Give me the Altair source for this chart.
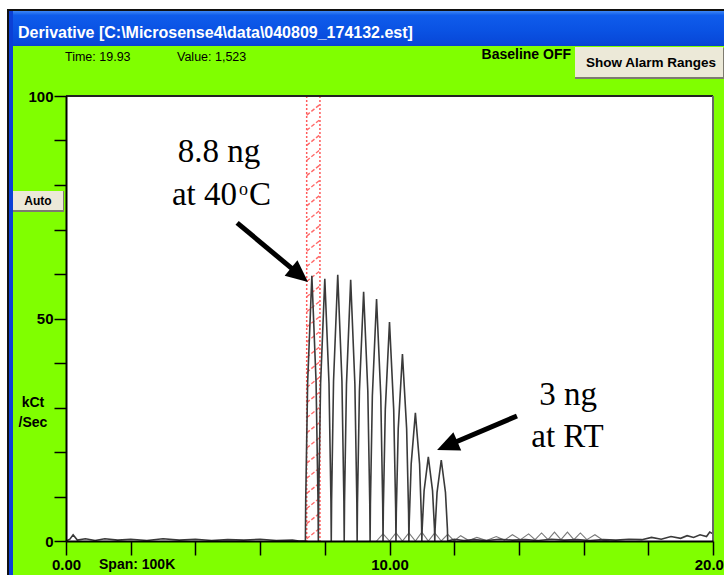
import altair as alt
import pandas as pd

# ---------------- values ----------------
# desorption peaks (time in min, height in kCt/Sec)
peak_x = [7.6, 8.0, 8.4, 8.8, 9.2, 9.6, 10.0, 10.4, 10.8, 11.2, 11.6]
peak_h = [59.6, 58.9, 59.8, 58.7, 56.0, 54.4, 49.2, 42.0, 28.8, 18.9, 18.2]

# baseline of the main trace before and after the peaks
pre_x = [0.0, 0.12, 0.22, 0.35, 0.6, 0.9, 1.2, 1.6, 2.0, 2.5, 3.0, 3.5, 4.0, 4.5, 5.0, 5.5, 6.0, 6.5, 7.0, 7.2]
pre_y = [0.0, 0.4, 1.4, 0.2, 0.5, 0.1, 0.5, 0.2, 0.4, 0.1, 0.5, 0.2, 0.4, 0.1, 0.3, 0.2, 0.4, 0.1, 0.2, 0.0]
post_x = [11.8, 12.0, 12.3, 12.6, 13.0, 13.4, 13.8, 14.2, 14.6, 15.0, 15.4, 15.8, 16.2, 16.6,
          17.0, 17.4, 17.8, 18.1, 18.4, 18.7, 19.0, 19.2, 19.4, 19.6, 19.8, 19.9, 20.0]
post_y = [0.0, 0.4, 0.1, 0.3, 0.1, 0.4, 0.2, 0.3, 0.1, 0.4, 0.2, 0.3, 0.1, 0.3,
          0.2, 0.4, 0.3, 0.8, 0.4, 1.0, 0.6, 1.2, 0.8, 1.4, 1.0, 2.0, 1.6]

# second (grey) trace: small arches along the baseline
ghost_x = [9.6, 9.8, 10.0, 10.2, 10.4, 10.6, 10.8, 11.0, 11.2, 11.4, 11.6, 11.8, 12.0, 12.2,
           12.45, 12.7, 13.0, 13.3, 13.55, 13.8, 14.05, 14.3, 14.5, 14.7, 14.9, 15.1, 15.3,
           15.5, 15.7, 15.9, 16.1, 16.35, 16.6, 16.8]
ghost_y = [0.0, 1.6, 0.0, 1.8, 0.0, 1.8, 0.0, 2.0, 0.0, 1.8, 0.0, 1.5, 0.0, 1.2,
           0.1, 0.8, 0.1, 1.0, 0.2, 1.4, 0.3, 1.6, 0.3, 1.8, 0.3, 2.0, 0.3,
           2.0, 0.3, 1.8, 0.3, 1.4, 0.2, 0.0]

# red alarm band and its hatching
band_x = [7.44, 7.85]
hatch_y = [0.5, 3.9, 7.3, 10.7, 14.1, 17.5, 20.9, 24.3, 27.7, 31.1, 34.5, 37.9, 41.3, 44.7, 48.1,
           51.5, 54.9, 58.3, 61.7, 65.1, 68.5, 71.9, 75.3, 78.7, 82.1, 85.5, 88.9, 92.3, 95.7]

# annotations (data coordinates)
ann_text = ["8.8 ng", "3 ng", "at RT"]
ann_x = [4.73, 15.52, 15.50]
ann_y = [85.2, 30.6, 21.1]

# arrows: tail, end of shaft, tip, head angle
arr_tail_x = [5.29, 13.94]
arr_tail_y = [71.5, 28.1]
arr_end_x = [7.20, 11.81]
arr_end_y = [59.9, 21.5]
arr_tip_x = [7.48, 11.47]
arr_tip_y = [58.2, 20.45]
arr_angle = [129.7, 247.0]

x_ticks = [0, 2, 4, 6, 8, 10, 12, 14, 16, 18, 20]
y_ticks = [0, 10, 20, 30, 40, 50, 60, 70, 80, 90, 100]

# ---------------- layout / style ----------------
X0, Y0 = 66, 96          # plot origin on the page
W, H = 647, 445          # plot size
SANS = "Liberation Sans, Arial, sans-serif"
SERIF = "Liberation Serif, Times New Roman, serif"
GREEN = "#80FF00"
BTN = "#ECE9D8"

XS = alt.Scale(domain=[0, 20], nice=False, zero=False)
YS = alt.Scale(domain=[0, 100], nice=False)
common_axis = dict(tickColor="black", tickWidth=1.5, domainColor="black", domainWidth=2,
                   labelFont=SANS, labelFontSize=15, labelFontWeight="bold", labelColor="black",
                   labelFlush=False, labelOverlap=False, grid=False, title=None, zindex=1)
XA = alt.Axis(values=x_ticks, format=".2f", tickSize=14, labelPadding=2,
              labelExpr="datum.value % 10 === 0 ? datum.label : ''", **common_axis)
YA = alt.Axis(values=y_ticks, format="d", tickSize=12, labelPadding=1,
              labelExpr="datum.value % 50 === 0 ? datum.label : ''", **common_axis)


def X(f):
    return alt.X(f, scale=XS, axis=XA)


def Y(f):
    return alt.Y(f, scale=YS, axis=YA)


def box(x1, y1, x2, y2, **kw):
    return alt.Chart(alt.Data(values=[{}])).mark_rect(**kw).encode(
        x=alt.value(x1 - X0), x2=alt.value(x2 - X0),
        y=alt.value(y1 - Y0), y2=alt.value(y2 - Y0))


def label(s, x, y, **kw):
    kw.setdefault("font", SANS)
    kw.setdefault("color", "black")
    kw.setdefault("baseline", "middle")
    return alt.Chart(alt.Data(values=[{}])).mark_text(text=s, **kw).encode(
        x=alt.value(x - X0), y=alt.value(y - Y0))


title_grad = alt.Gradient(
    gradient="linear", x1=0, x2=0, y1=0, y2=1,
    stops=[alt.GradientStop(color="#3C86F6", offset=0),
           alt.GradientStop(color="#0F5CEB", offset=0.12),
           alt.GradientStop(color="#0A52E3", offset=0.55),
           alt.GradientStop(color="#0848D9", offset=0.9),
           alt.GradientStop(color="#0A3FC8", offset=1)])

decor = [
    box(7, 9, 724, 575, color="#111111"),
    box(9, 11, 724, 47, color=title_grad),
    box(9, 11, 13, 575, color="#0B40D6"),
    box(13, 46, 724, 575, color=GREEN),
    box(575, 48, 724, 79, color="#7E7B70"),
    box(575, 47, 723, 77, color=BTN),
    box(13, 191, 64, 212, color="#7E7B70"),
    box(13, 191, 63, 210, color=BTN),
    box(X0, Y0, X0 + W, Y0 + H, color="white"),
    label("Derivative [C:\\Microsense4\\data\\040809_174132.est]", 18, 33, align="left",
          color="white", fontSize=16, fontWeight="bold"),
    label("Time: 19.93", 65, 57, align="left", fontSize=12.5),
    label("Value: 1,523", 177, 57, align="left", fontSize=12.5),
    label("Baseline OFF", 571, 55, align="right", fontSize=14, fontWeight="bold"),
    label("Show Alarm Ranges", 586, 63, align="left", fontSize=13.5, fontWeight="bold"),
    label("Auto", 38, 201, align="center", fontSize=12, fontWeight="bold"),
    label("kCt", 33, 403, align="center", fontSize=14, fontWeight="bold"),
    label("/Sec", 33, 423, align="center", fontSize=14, fontWeight="bold"),
    label("Span: 100K", 99, 565, align="left", fontSize=14, fontWeight="bold"),
]

# ---------------- data frames ----------------
shape_dx = [-0.2, -0.19, -0.13, 0.0, 0.13, 0.19]
shape_f = [0.0, 0.15, 0.6, 1.0, 0.6, 0.15]
main_pts = list(zip(pre_x, pre_y))
for c, h in zip(peak_x, peak_h):
    for dx, f in zip(shape_dx, shape_f):
        main_pts.append((round(c + dx, 3), h * f))
main_pts += list(zip(post_x, post_y))
main_df = pd.DataFrame(main_pts, columns=["x", "y"])
main_df["o"] = range(len(main_df))
ghost_df = pd.DataFrame({"x": ghost_x, "y": ghost_y})
band_df = pd.DataFrame({"x": band_x})
HATCH_RISE = 2.4
hatch_df = pd.DataFrame({"x0": [band_x[0]] * len(hatch_y), "x1": [band_x[1]] * len(hatch_y),
                         "y0": hatch_y, "y1": [v + HATCH_RISE for v in hatch_y]})
ann_df = pd.DataFrame({"t": ann_text, "x": ann_x, "y": ann_y})
arr_df = pd.DataFrame({"tx": arr_tail_x, "ty": arr_tail_y, "ex": arr_end_x, "ey": arr_end_y,
                       "px": arr_tip_x, "py": arr_tip_y, "ang": arr_angle})

band = alt.Chart(band_df).mark_rule(color="#FF5A5A", strokeDash=[2, 2], strokeWidth=1.5).encode(
    x=X("x:Q"))
hatch = alt.Chart(hatch_df).mark_rule(color="#FF6A6A", strokeDash=[4, 2], strokeWidth=1.4).encode(
    x=X("x0:Q"), x2="x1:Q", y=Y("y0:Q"), y2="y1:Q")
ghost = alt.Chart(ghost_df).mark_line(color="#7a7a7a", strokeWidth=1.1).encode(x=X("x:Q"), y=Y("y:Q"))
main = alt.Chart(main_df).mark_line(color="#3a3a3a", strokeWidth=1.6).encode(
    x=X("x:Q"), y=Y("y:Q"), order="o:Q")

frame_top = alt.Chart(alt.Data(values=[{}])).mark_rule(color="#222222", strokeWidth=2).encode(
    x=alt.value(0), x2=alt.value(W), y=alt.value(0))
frame_right = alt.Chart(alt.Data(values=[{}])).mark_rule(color="#666666", strokeWidth=2).encode(
    x=alt.value(W), y=alt.value(0), y2=alt.value(H))

ann = alt.Chart(ann_df).mark_text(font=SERIF, fontSize=33, color="black", align="center",
                                  baseline="alphabetic").encode(x=X("x:Q"), y=Y("y:Q"), text="t:N")
deg_parts = [
    alt.Chart(pd.DataFrame({"t": ["at 40"], "x": [5.286], "y": [75.5]})).mark_text(
        font=SERIF, fontSize=33, align="right", baseline="alphabetic").encode(
        x=X("x:Q"), y=Y("y:Q"), text="t:N"),
    alt.Chart(pd.DataFrame({"t": ["o"], "x": [5.35], "y": [77.75]})).mark_text(
        font=SERIF, fontSize=18, align="left", baseline="alphabetic").encode(
        x=X("x:Q"), y=Y("y:Q"), text="t:N"),
    alt.Chart(pd.DataFrame({"t": ["C"], "x": [5.657], "y": [75.5]})).mark_text(
        font=SERIF, fontSize=33, align="left", baseline="alphabetic").encode(
        x=X("x:Q"), y=Y("y:Q"), text="t:N"),
]

shaft = alt.Chart(arr_df).mark_rule(color="black", strokeWidth=5).encode(
    x=X("tx:Q"), y=Y("ty:Q"), x2="ex:Q", y2="ey:Q")
head = alt.Chart(arr_df).mark_point(shape="M0,0L0.5,1.1L-0.5,1.1Z", filled=True, size=1600,
                                    color="black", opacity=1, strokeWidth=0).encode(
    x=X("px:Q"), y=Y("py:Q"), angle=alt.Angle("ang:Q", scale=None))

chart = alt.layer(
    *decor, band, hatch, ghost, main, frame_top, frame_right, ann, *deg_parts, shaft, head
).properties(
    width=W, height=H,
    padding={"left": X0, "top": Y0, "right": 724 - X0 - W, "bottom": 575 - Y0 - H},
    autosize=alt.AutoSizeParams(type="none"),
).configure(background="white").configure_view(strokeWidth=0)

chart.save("out.html", embed_options={"renderer": "svg", "actions": False})
